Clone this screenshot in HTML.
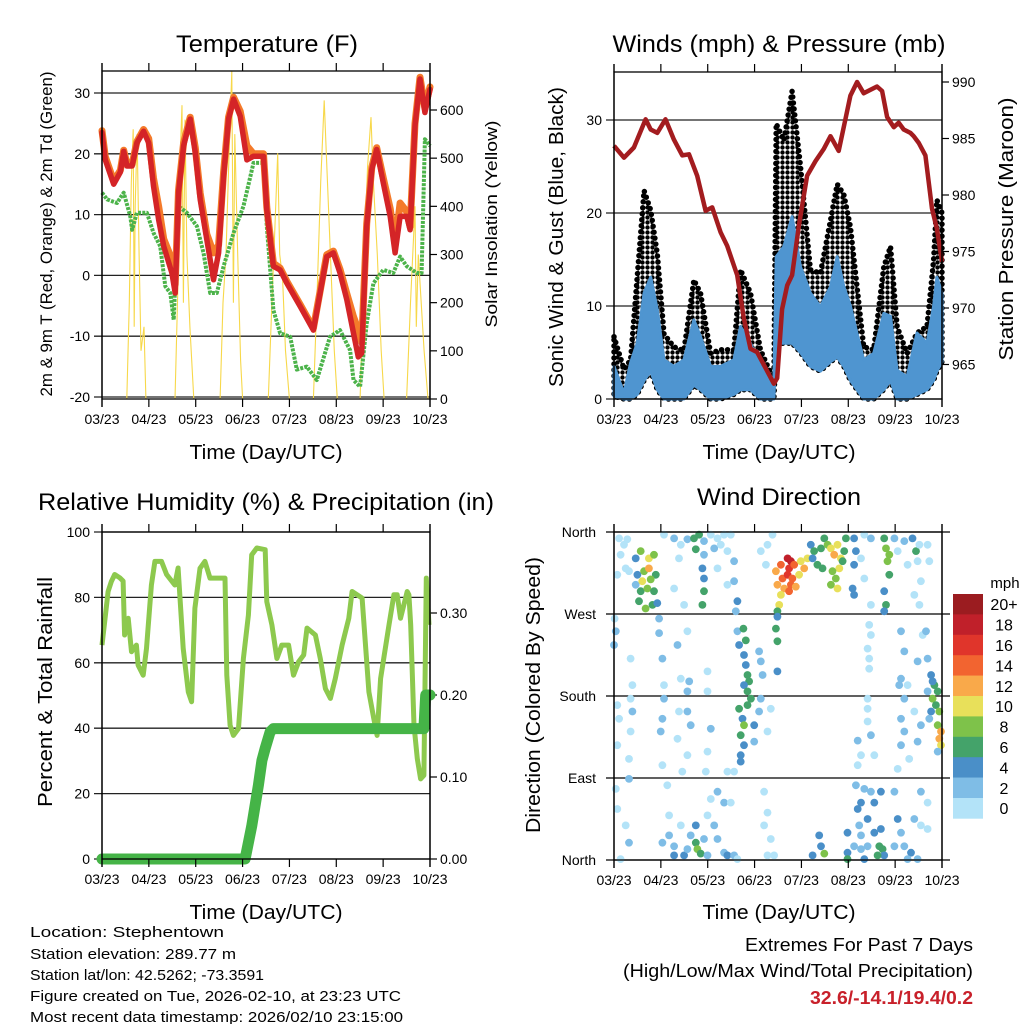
<!DOCTYPE html>
<html><head><meta charset="utf-8"><style>
html,body{margin:0;padding:0;background:#fff;}
svg{display:block;font-family:"Liberation Sans",sans-serif;}
</style></head><body>
<svg id="fig" width="1024" height="1024" viewBox="0 0 1024 1024" xmlns="http://www.w3.org/2000/svg">
<defs>
<pattern id="dots" x="0" y="0" width="5" height="5" patternUnits="userSpaceOnUse">
<circle cx="2.5" cy="2.5" r="2.2" fill="#000"/>
</pattern>
</defs>
<rect x="0" y="0" width="1024" height="1024" fill="#fff"/>
<g id="p1"></g>
<g id="p2"></g>
<g id="p3"></g>
<g id="p4"></g>
<g id="txt" font-size="16" fill="#000">
<text x="267" y="52" font-size="24" text-anchor="middle" textLength="182" lengthAdjust="spacingAndGlyphs">Temperature (F)</text>
<text x="779" y="52" font-size="24" text-anchor="middle" textLength="333" lengthAdjust="spacingAndGlyphs">Winds (mph) &amp; Pressure (mb)</text>
<text x="266" y="510" font-size="24" text-anchor="middle" textLength="456" lengthAdjust="spacingAndGlyphs">Relative Humidity (%) &amp; Precipitation (in)</text>
<text x="779" y="505" font-size="24" text-anchor="middle" textLength="164" lengthAdjust="spacingAndGlyphs">Wind Direction</text>
<text x="266" y="459" font-size="20" text-anchor="middle" textLength="153" lengthAdjust="spacingAndGlyphs">Time (Day/UTC)</text>
<text x="779" y="459" font-size="20" text-anchor="middle" textLength="153" lengthAdjust="spacingAndGlyphs">Time (Day/UTC)</text>
<text x="266" y="919" font-size="20" text-anchor="middle" textLength="153" lengthAdjust="spacingAndGlyphs">Time (Day/UTC)</text>
<text x="779" y="919" font-size="20" text-anchor="middle" textLength="153" lengthAdjust="spacingAndGlyphs">Time (Day/UTC)</text>
<text transform="translate(52,234) rotate(-90)" font-size="17" text-anchor="middle" textLength="325" lengthAdjust="spacingAndGlyphs">2m &amp; 9m T (Red, Orange) &amp; 2m Td (Green)</text>
<text transform="translate(497,224) rotate(-90)" font-size="17" text-anchor="middle" textLength="207" lengthAdjust="spacingAndGlyphs">Solar Insolation (Yellow)</text>
<text transform="translate(563,237) rotate(-90)" font-size="20" text-anchor="middle" textLength="300" lengthAdjust="spacingAndGlyphs">Sonic Wind &amp; Gust (Blue, Black)</text>
<text transform="translate(1013,229) rotate(-90)" font-size="20" text-anchor="middle" textLength="263" lengthAdjust="spacingAndGlyphs">Station Pressure (Maroon)</text>
<text transform="translate(52,692) rotate(-90)" font-size="20" text-anchor="middle" textLength="230" lengthAdjust="spacingAndGlyphs">Percent &amp; Total Rainfall</text>
<text transform="translate(540,695) rotate(-90)" font-size="20" text-anchor="middle" textLength="276" lengthAdjust="spacingAndGlyphs">Direction (Colored By Speed)</text>
<text x="30" y="937" font-size="15" textLength="194" lengthAdjust="spacingAndGlyphs">Location: Stephentown</text>
<text x="30" y="959" font-size="15" textLength="206" lengthAdjust="spacingAndGlyphs">Station elevation: 289.77 m</text>
<text x="30" y="980" font-size="15" textLength="234" lengthAdjust="spacingAndGlyphs">Station lat/lon: 42.5262; -73.3591</text>
<text x="30" y="1001" font-size="15" textLength="371" lengthAdjust="spacingAndGlyphs">Figure created on Tue, 2026-02-10, at 23:23 UTC</text>
<text x="30" y="1022" font-size="15" textLength="373" lengthAdjust="spacingAndGlyphs">Most recent data timestamp: 2026/02/10 23:15:00</text>
<text x="973" y="951" font-size="18" text-anchor="end" textLength="228" lengthAdjust="spacingAndGlyphs">Extremes For Past 7 Days</text>
<text x="973" y="977" font-size="18" text-anchor="end" textLength="350" lengthAdjust="spacingAndGlyphs">(High/Low/Max Wind/Total Precipitation)</text>
<text x="973" y="1004" font-size="18" font-weight="bold" fill="#c8202a" text-anchor="end" textLength="163" lengthAdjust="spacingAndGlyphs">32.6/-14.1/19.4/0.2</text>
</g>
</svg>
<script>
// ---------- DATA ----------
const dayTicks = ["03/23","04/23","05/23","06/23","07/23","08/23","09/23","10/23"];
const tempHours = [0,1.7,6,9.4,11.1,12.8,15.4,17.9,21.3,23.9,26.4,29,31.6,35.8,37.5,39.2,41.8,45.2,47.8,50.3,53.7,57.1,59.7,62.3,64.8,67.4,70.8,74.2,77.6,82.7,84.4,87.8,91.2,94.7,101.5,108.3,111.7,115.1,118.5,121.9,125.4,128.8,131.3,133,135.6,138.2,140.7,144.1,147.6,150.1,152.7,156.1,157.8,160.3,162.9,165.4,168];
const temp2m = [23.5,19,15,17,20.4,18,18,21.8,23.7,21.8,14.7,9.2,4.8,0.4,-2.9,13.6,21.3,25.7,20.2,12.5,5.9,-0.7,3.7,16.3,25.7,29,26.2,19,19.6,19.6,10.8,1.5,0.9,-1.3,-5.1,-9,-2.9,3.1,3.7,0.4,-4,-9.5,-13.4,-12.8,8.1,17.4,20.7,15.2,9.7,3.7,9.7,9.7,7.5,24.6,32.3,26.8,30.6];
const temp9m = [23.8,19.5,15.5,17.3,20.6,18.3,18.3,22,24,22.5,16,11.4,6,2.6,-1.5,14,21.8,26,21,13.5,6.8,3.7,5,17,26,29.3,27,21.3,20,20,11.2,2,1.2,-1,-4.8,-8.7,-2.6,3.4,4,1,-3,-6.8,-9,-11,8.5,17.8,21,16,11,5,11.9,10.5,8,25,32.6,27.5,31];
const dewHours = [0,2.6,7.7,11.1,14.5,15.4,17.9,23,26.4,29.8,32.4,35,36.7,39.2,43.5,48.6,52,55.4,58.8,62.3,67.4,72.5,77.6,82.7,84.4,87.8,91.2,96.4,99.8,104.9,110,116.8,121.9,127.1,128.8,132.2,135.6,139,144.1,149.2,152.7,156.1,161.2,163.7,165.4,168];
const dewPoint = [13.6,12.5,11.9,13.6,9.7,7.5,10.3,10.3,7,4.8,-1.8,-2.9,-7.3,11.4,10.3,8.1,3.7,-2.9,-2.9,1.5,7,11.4,18.5,18.5,8.1,-5.7,-9.5,-10.1,-15.5,-15,-17.2,-10.1,-9,-12.3,-17.2,-18.3,-7.9,-1.3,0.9,0.4,3.1,1.5,0.4,0.4,22.4,21.3];
const solarHours = [0,12.7,14,15,16,16.5,17,18,19,20,21.5,22.5,37.4,39,40,41,41.7,42.5,43.5,45,47,60.5,62,63.5,65,66.5,67.3,68,69.5,71,72,85.2,87,88.5,90,91,92.5,94,96,108.3,110,112,113.8,115,117,119,120.5,132.2,134,136,137.8,139,141,143,144.5,156,158,160.3,161,162,163.5,165,167,168];
const solarWm2 = [0,0,200,450,560,150,400,550,300,100,150,0,0,250,500,610,200,580,300,150,0,0,200,300,500,680,200,550,300,80,0,0,200,350,510,300,250,100,0,0,200,450,620,500,300,100,0,0,250,480,585,450,300,100,0,0,200,400,150,300,200,100,0,0];
const windHours = [0,5.1,8.5,11.9,15.4,18.8,22.2,25.6,30.7,35.8,40.9,44.3,49.5,54.6,61.4,64.8,69.9,75,81.9,83.1,87,91.2,95.5,100.6,105.7,110.9,114.3,117.7,121.1,124.5,127.9,133,138.2,141.6,145,150.1,155.2,160.3,163.7,165.4,168];
const windHigh = [3.5,0.6,3.9,6,11.4,13.1,9.6,4.2,3.5,4.2,8.5,6.7,3.5,3.5,4.2,7.8,6,3.5,2,15.3,16.4,19.6,14.2,11.4,9.9,12.1,15.3,12.1,10,7,4.2,4.9,9.2,8.9,3.1,2.4,7.1,6,10,13.1,11.4];
const windLow = [0.3,0,0,0.5,2,3,1,0,0,0,1.5,1,0,0,0.5,1,1,0,0,6,6,6,5,3.5,3,4,4.5,3.5,2,1,0,0,1,2,0,0,0.5,1,2,3,4];
const gustHigh = [6.7,3.2,4.2,13.1,22.4,20.3,15.6,7,5.6,5.2,12.8,11.4,4.9,5.3,5.3,13.9,11.4,5.3,2,29.6,27.8,33.1,25,13.9,13.5,19.2,23.1,22,18.5,12,5.6,5.3,14.2,16.4,7.8,4.9,7.1,7.8,14.9,21.4,20];
const presHours = [0,5.1,10.2,16.2,18.8,22.2,26.4,30.7,35,38.4,42.6,46.9,50.3,54.6,58,63.1,66.5,69.9,73.3,78.5,81.9,83.6,86.1,88.7,91.2,94.7,98.9,103.2,107.5,110.9,115.1,118.5,121.1,124.5,127.9,131.3,134.7,137.3,139.9,143.3,145.8,148.4,151.8,153.5,156.1,159.5,162.9,165.4,168];
const pressure = [984.35,983.3,984.2,986.7,985.8,985.5,986.7,984.9,983.5,983.6,981.7,978.6,978.9,976.7,975.5,972.9,969.1,966.4,966.1,964.4,963.3,963.8,969.9,972,972.9,977.3,981.7,983,984.1,985.2,983.9,986.7,988.8,990,989,989.3,989.6,989.2,986.9,986,986.4,985.8,985.5,985.2,984.6,983.5,978.8,977,974.1];
const rhHours = [0,1.4,3.1,4.8,6.5,9.1,10.8,11.6,13.4,15.1,17.6,18.5,21.1,22.8,25.3,27.1,30.5,33.1,37.3,39,41.6,44.2,45.9,47.6,50.2,52.7,55.3,59.6,63,63.9,65.6,67.3,69.9,72.4,75,76.7,79.3,83.6,84.4,87,89.6,92.1,95.6,98.1,100.7,103.3,105,109.3,111.8,114.4,117,119.5,123,126.4,128.1,133.2,136.7,139.2,140.9,142.7,147,149.5,151.2,152.9,156.3,157.2,158.1,159.8,161.5,163.2,164.9,166.1,167.5];
const rhPercent = [65.4,72.6,81.8,84.9,87,86,85,68.5,73.6,63.4,65.4,59.3,56.2,64.4,83.8,91,91,87,83.8,89,64.4,51.1,48.1,76.7,88.9,91,85.9,85.9,85.9,56.2,40.9,37.8,39.9,61.3,74.6,93,95.1,94.6,78.7,71.6,61.3,65.4,65.4,56.2,60.3,62.4,70.6,68.5,61.3,52.1,49.1,55.2,65.4,73.6,81.8,79.8,51.1,42.9,37.8,55.2,71.6,80.8,80.8,73.6,81.8,80.8,71.6,40.9,30.7,24.5,25.6,85.9,71.6];
const precipHours = [0,73.3,76.7,80.1,81.9,83.6,86.1,87.8,164.9,165.8,168];
const precipInches = [0,0,0.04,0.09,0.12,0.135,0.155,0.159,0.159,0.2,0.2];
const dirHour = [2.6,5.1,6.8,3.4,1.7,6,7.7,
11.1,13.7,17.9,20.5,12,15.4,17.9,21.4,11.1,13.7,17.1,20.5,12.8,16.2,19.7,22.2,14.5,18.8,23.1,23.1,
0.3,0.9,0,8.5,9.4,8.5,9.4,1.7,2.6,8.5,1.7,7.7,0.9,7.7,1.7,6,7.7,3.4,
24.8,25.6,25.6,24.8,23.9,24.8,27.3,28.2,
25.6,30.8,34.2,37.6,41,43.6,46.1,41.9,46.1,45.3,46.1,46.1,45.3,33.3,30.8,35.9,37.6,32.5,
34.2,38.5,37.6,37.6,33.3,39.3,32.5,37.6,35,
24.8,28.2,30.8,34.2,35.9,39.3,41.9,42.7,41.9,44.4,30.8,37.6,46.1,
49.6,53,56.4,59.8,51.3,54.7,58.1,61.5,53,58.1,61.5,63.2,62.4,63.2,64.1,
66.3,67.5,66.6,67.5,68.4,69.2,66.6,68.4,70.1,68.4,64.1,65.8,66.6,64.9,66.6,64.9,64.9,71.8,71.8,74.3,75.2,76.1,75.2,74.3,
47.9,51.3,53,56.4,58.1,61.5,49.6,53,56.4,47.9,59.8,63.2,
47.9,47.9,49.6,47.9,47,58.1,61.5,
76.9,78.6,76.9,80.3,78.6,82,80.3,78.6,
75.2,78.6,81.2,77.8,
82.9,85.5,88.9,90.6,89.7,92.3,95.7,99.1,97.4,86.3,88.9,91.4,94.8,83.7,87.2,90.6,93.1,85.5,89.7,84.6,83.7,83.7,82.9,83.7,83.7,
100.8,102.5,106,107.7,109.4,104.2,101.7,106.8,111.1,114.5,112.8,116.2,115.4,111.9,113.6,114.5,111.1,117.9,118.8,117.1,
123,123.9,123,122.2,123,128.2,131.6,126.5,128.2,131.6,
138.4,139.3,141,140.1,141,138.4,139.3,138.4,143.6,145.3,148.7,152.9,154.7,156.4,150.4,155.5,153.8,156.4,160.6,161.5,157.2,
130.7,131.6,129.9,130.7,130.7,129.9,129.9,129.9,131.6,124.8,126.5,133.3,124.8,
147,148.7,147,146.1,148.7,147,148.7,147,145.3,151.2,155.5,157.2,153.8,150.4,155.5,158.1,159.8,160.6,
162.4,164.1,165.8,163.2,164.9,162.4,166.6,165.8,167.5,166.6,167.5,160.6,161.5,165.8,163.2,
123.9,128.2,126.5,124.8,131.6,133.3,136.7,125.6,129.9,126.5,133.3,136.7,135.9,137.6,138.4,135,129.9,126.5,123,128.2,119.6,119.6,119.6,143.6,145.3,147,148.7,152.1,155.5,153.8,157.2,157.2,160.6,160.6,150.4,143.6,105.1,106,107.7,101.7];
const dirDeg = [353,346,352,335,313,320,317,
331,339,331,335,313,317,320,313,302,295,298,295,284,276,280,282,306,308,265,249,
265,251,236,221,192,177,163,170,155,141,126,111,78,89,56,38,19,1,
221,192,177,155,141,104,82,49,
357,353,346,352,353,357,350,341,335,320,309,295,280,331,298,280,251,236,
199,196,185,163,163,148,133,115,97,
19,27,15,38,5,27,19,12,38,7,5,12,23,
357,353,357,357,342,346,339,328,320,302,306,284,273,251,236,
254,241,225,214,203,196,192,185,177,170,166,155,148,137,126,115,108,148,130,229,218,203,177,163,
5,38,23,8,5,5,67,75,63,49,63,1,
207,185,144,119,97,97,97,
75,52,38,23,5,5,166,141,
339,346,357,324,
317,324,331,328,320,324,328,331,320,309,313,309,313,302,298,302,300,291,295,280,273,267,254,240,207,
346,339,342,353,346,324,331,320,342,346,335,331,320,317,309,298,302,339,353,328,
353,339,324,298,291,357,353,331,309,280,
353,342,335,328,313,295,280,273,353,339,350,353,339,346,324,328,291,280,346,328,306,
258,247,232,221,210,177,166,152,137,131,115,115,104,
251,229,199,192,177,155,141,126,100,111,130,148,163,192,218,247,251,221,
203,192,185,177,170,163,163,148,141,133,126,185,155,119,196,
82,78,63,56,75,63,75,38,45,27,30,34,15,12,5,5,15,12,15,1,30,8,1,75,45,30,15,8,1,45,75,38,34,63,1,15,27,15,7,5];
const dirSpeed = [1,1,1,1,1,1,1,
5,9,11,9,5,9,12,7,3,7,9,7,7,8,7,4,11,8,3,3,
1,2,2,1,1,1,3,1,1,1,1,1,1,3,1,1,2,1,
2,1,2,3,2,1,1,1,
1,2,1,2,6,6,3,7,3,4,4,6,6,1,1,1,1,3,
1,2,2,3,1,2,1,1,1,
2,3,2,1,4,3,7,8,5,6,4,3,3,
1,1,1,1,2,1,1,2,1,1,3,4,3,3,4,
6,6,4,4,6,6,5,6,7,6,6,4,8,6,5,4,4,4,3,2,2,2,2,2,
3,2,3,3,4,2,1,2,2,1,1,1,
1,1,3,1,1,1,1,
1,1,1,1,1,1,1,1,
1,1,1,1,
12,14,18,18,16,14,11,11,12,15,16,14,11,12,12,14,12,10,14,11,6,4,6,6,4,
4,6,6,6,8,6,5,6,11,10,12,10,10,9,9,10,9,6,6,6,
4,4,4,4,4,1,2,1,1,1,
6,8,9,9,7,5,6,5,3,1,3,4,6,1,1,1,1,1,1,1,1,
1,1,1,1,1,1,1,1,2,3,1,1,1,
3,2,2,2,2,2,3,3,1,1,2,2,1,1,3,1,3,2,
4,6,7,8,6,4,8,8,12,12,10,3,3,3,5,
3,3,4,4,3,4,4,3,4,3,4,4,6,6,5,6,3,3,3,4,4,4,6,3,4,3,3,4,2,2,2,1,1,1,3,3,4,4,8,4];
const speedColors = ["#b3e3f8","#7fbde6","#4a8fc8","#44a36a","#7ec24a","#e8e05a","#f9a94a","#f26430","#e0352b","#c0202a","#9b1c20"];
const speedLabels = ["0","2","4","6","8","10","12","14","16","18","20+"];
const tempTicks = [-20,-10,0,10,20,30];
const solarTicks = [0,100,200,300,400,500,600];
const windTicks = [0,10,20,30];
const presTicks = [965,970,975,980,985,990];
const rhTicks = [0,20,40,60,80,100];
const precipTicks = [0,0.1,0.2,0.3];
const dirTicks = [0,90,180,270,360];
const dirLabels = ["North","East","South","West","North"];

// ---------- HELPERS ----------
const NS = "http://www.w3.org/2000/svg";
function mk(tag, attrs, parent){
  const e = document.createElementNS(NS, tag);
  for (const k in attrs) e.setAttribute(k, attrs[k]);
  parent.appendChild(e);
  return e;
}
function lin(d0,d1,r0,r1){ return v => r0 + (v-d0)/(d1-d0)*(r1-r0); }
function pathOf(xs, ys, fx, fy){
  let d = "";
  for (let i=0;i<xs.length;i++) d += (i? "L":"M") + fx(xs[i]).toFixed(1) + "," + fy(ys[i]).toFixed(1);
  return d;
}
function bandOf(xs, lo, hi, fx, fy){
  let d = "";
  for (let i=0;i<xs.length;i++) d += (i? "L":"M") + fx(xs[i]).toFixed(1) + "," + fy(hi[i]).toFixed(1);
  for (let i=xs.length-1;i>=0;i--) d += "L" + fx(xs[i]).toFixed(1) + "," + fy(lo[i]).toFixed(1);
  return d + "Z";
}
function frame(g, x0, x1, y0, y1, fx){
  const r = mk("rect",{x:x0,y:y0,width:x1-x0,height:y1-y0,fill:"none",stroke:"#000","stroke-width":1.3},g);
  
  
  const la = mk("line",{x1:x0,y1:y0-8,x2:x0,y2:y1+8,stroke:"#000","stroke-width":1.3},g);
  
  
  const ra = mk("line",{x1:x1,y1:y0-8,x2:x1,y2:y1+8,stroke:"#000","stroke-width":1.3},g);
  
  
  dayTicks.forEach((lab,i)=>{
    const x = fx(i*24);
    const t1 = mk("line",{x1:x,y1:y0-8,x2:x,y2:y0,stroke:"#000","stroke-width":1.2},g);
    
    
    const t2 = mk("line",{x1:x,y1:y1,x2:x,y2:y1+8,stroke:"#000","stroke-width":1.2},g);
    
    
    const tl = mk("text",{x:x,y:y1+25,"font-size":14,"text-anchor":"middle"},g);
    tl.textContent = lab;
    
    
  });
}
function leftTicks(g, ticks, fy, x0, x1, labelFn, grid){
  ticks.forEach(v=>{
    const y = fy(v);
    const gl = mk("line",{x1:x0-8,y1:y,x2:grid?x1:x0,y2:y,stroke:"#222","stroke-width":1.3},g);
    
    
    const tl = mk("text",{x:x0-12,y:y+5,"font-size":14,"text-anchor":"end"},g);
    tl.textContent = labelFn(v);
    
    
  });
}
function rightTicks(g, ticks, fy, x1, labelFn){
  ticks.forEach(v=>{
    const y = fy(v);
    const t = mk("line",{x1:x1,y1:y,x2:x1+7,y2:y,stroke:"#000","stroke-width":1.2},g);
    
    
    const tl = mk("text",{x:x1+10,y:y+5,"font-size":14,"text-anchor":"start"},g);
    tl.textContent = labelFn(v);
    
    
  });
}

// ---------- PANEL 1: TEMPERATURE ----------
(function(){
  const g = document.getElementById("p1");
  const x0=102,x1=430,y0=71,y1=399;
  const fx = lin(0,168,x0,x1), fy = lin(0,30,275.4,93), fs = lin(0,600,399,110);
  leftTicks(g,tempTicks,fy,x0,x1,v=>String(v),true);
  rightTicks(g,solarTicks,fs,x1,v=>String(v));
  const sol = mk("path",{d:pathOf(solarHours,solarWm2,fx,fs),fill:"none",stroke:"#f7d84a","stroke-width":1.1},g);
  
  
  const dew = mk("path",{d:pathOf(dewHours,dewPoint,fx,fy),fill:"none",stroke:"#4cb34a","stroke-width":4,"stroke-dasharray":"3 1.2","stroke-linejoin":"round"},g);
  
  
  const t9 = mk("path",{d:pathOf(tempHours,temp9m,fx,fy),fill:"none",stroke:"#f47a2a","stroke-width":7,"stroke-linejoin":"round","stroke-linecap":"round"},g);
  
  
  const t2 = mk("path",{d:pathOf(tempHours,temp2m,fx,fy),fill:"none",stroke:"#d42427","stroke-width":5.5,"stroke-linejoin":"round","stroke-linecap":"round"},g);
  
  
  frame(g,x0,x1,y0,y1,fx);
})();

// ---------- PANEL 2: WINDS & PRESSURE ----------
(function(){
  const g = document.getElementById("p2");
  const x0=614,x1=942,y0=72,y1=399;
  const fx = lin(0,168,x0,x1), fy = lin(0,30,399,120), fp = lin(965,990,364.5,82);
  leftTicks(g,windTicks,fy,x0,x1,v=>String(v),true);
  rightTicks(g,presTicks,fp,x1,v=>String(v));
  const gust = mk("path",{d:bandOf(windHours,windLow,gustHigh,fx,fy),fill:"url(#dots)",stroke:"#000","stroke-width":5.5,"stroke-dasharray":"0 6","stroke-linecap":"round","stroke-linejoin":"round"},g);
  
  
  const wind = mk("path",{d:bandOf(windHours,windLow,windHigh,fx,fy),fill:"#4f95d0",stroke:"#4f95d0","stroke-width":3,"stroke-linejoin":"round"},g);
  
  
  const pr = mk("path",{d:pathOf(presHours,pressure,fx,fp),fill:"none",stroke:"#a31c1f","stroke-width":4.5,"stroke-linejoin":"round"},g);
  
  
  frame(g,x0,x1,y0,y1,fx);
})();

// ---------- PANEL 3: HUMIDITY & PRECIP ----------
(function(){
  const g = document.getElementById("p3");
  const x0=102,x1=430,y0=532,y1=859;
  const fx = lin(0,168,x0,x1), fy = lin(0,100,859,532), fp = lin(0,0.1,859,777);
  leftTicks(g,rhTicks,fy,x0,x1,v=>String(v),true);
  rightTicks(g,precipTicks,fp,x1,v=>v.toFixed(2));
  const rh = mk("path",{d:pathOf(rhHours,rhPercent,fx,fy),fill:"none",stroke:"#8dc94e","stroke-width":5,"stroke-linejoin":"round"},g);
  
  
  const pc = mk("path",{d:pathOf(precipHours,precipInches,fx,fp),fill:"none",stroke:"#45b447","stroke-width":11,"stroke-linejoin":"round","stroke-linecap":"round"},g);
  
  
  frame(g,x0,x1,y0,y1,fx);
})();

// ---------- PANEL 4: WIND DIRECTION ----------
(function(){
  const g = document.getElementById("p4");
  const x0=614,x1=942,y0=532,y1=860;
  const fx = lin(0,168,x0,x1), fy = lin(0,360,860,532);
  dirTicks.forEach((v,i)=>{
    const y = fy(v);
    const gl = mk("line",{x1:x0-8,y1:y,x2:x1+8,y2:y,stroke:"#000","stroke-width":1.2},g);
    
    
    const tl = mk("text",{x:x0-18,y:y+5,"font-size":14,"text-anchor":"end"},g);
    tl.textContent = dirLabels[i];
    
    
  });
  for (let i=0;i<dirHour.length;i++){
    const bin = Math.min(10, Math.floor(dirSpeed[i]/2));
    const c = mk("circle",{cx:fx(dirHour[i]).toFixed(1),cy:fy(dirDeg[i]).toFixed(1),r:3.9,fill:speedColors[bin]},g);
    
    
  }
  frame(g,x0,x1,y0,y1,fx);
  const cb = mk("g",{},g);
  
  
  const top=594, h=20.4;
  for (let i=0;i<speedColors.length;i++){
    const k = speedColors.length-1-i;
    const r = mk("rect",{x:953,y:top+i*h,width:30,height:h+0.3,fill:speedColors[k]},cb);
    
    
    const t = mk("text",{x:1004,y:top+i*h+h/2+6,"font-size":16,"text-anchor":"middle"},cb);
    t.textContent = speedLabels[k];
    
    
  }
  const u = mk("text",{x:1005,y:588,"font-size":15,"text-anchor":"middle"},cb);
  u.textContent = "mph";
  
  
})();
</script>
</body></html>
